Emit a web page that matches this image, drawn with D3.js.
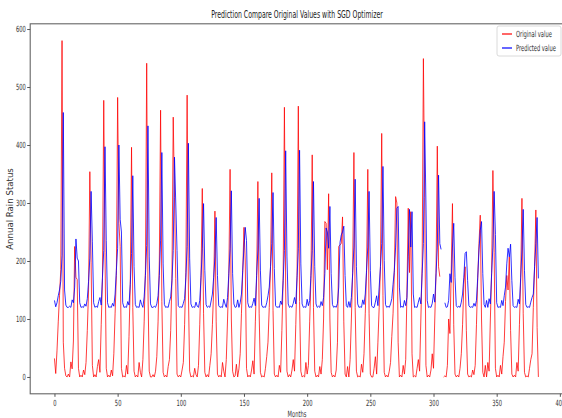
<!DOCTYPE html>
<html>
<head>
<meta charset="utf-8">
<script src="https://cdn.jsdelivr.net/npm/d3@7"></script>
<style>
  body { margin: 0; background: #fff; }
  svg { display: block; font-family: "DejaVu Sans", sans-serif; }
</style>
</head>
<body>
<div id="chart"></div>
<script>
// monthly values, one row per rainy season
const original = [
  32, 6, 45, 95, 140, 185, 580,
  60, 15, 2, 0, 5, 0, 26, 14, 62, 225,
  172, 168, 15, 0, 3, 0, 12, 4, 25, 80, 150, 354,
  198, 20, 0, 4, 0, 18, 30, 8, 90, 170, 477,
  215, 15, 0, 3, 0, 12, 2, 40, 110, 175, 482,
  265, 225, 15, 0, 2, 0, 20, 5, 70, 160, 396,
  120, 10, 0, 3, 0, 25, 8, 0, 30, 95, 185, 541,
  150, 10, 0, 0, 4, 0, 10, 35, 95, 200, 460,
  130, 8, 0, 3, 0, 18, 30, 80, 170, 448,
  310, 170, 5, 0, 3, 0, 12, 25, 90, 180, 486,
  150, 10, 0, 2, 0, 15, 4, 0, 20, 90, 175, 325,
  110, 8, 0, 4, 0, 20, 40, 90, 150, 286,
  95, 5, 0, 3, 0, 25, 10, 0, 30, 100, 175, 358,
  100, 10, 0, 2, 22, 0, 14, 40, 110, 180, 258,
  200, 15, 0, 3, 0, 12, 28, 5, 95, 170, 337,
  110, 8, 0, 2, 0, 15, 35, 60, 120, 190, 352,
  115, 5, 0, 3, 0, 20, 8, 80, 170, 465,
  150, 10, 0, 4, 0, 12, 30, 10, 90, 175, 467,
  130, 10, 0, 2, 0, 25, 5, 20, 95, 170, 383,
  120, 10, 0, 3, 0, 18, 5, 30, 100, 268, 265, 185, 316,
  100, 8, 0, 3, 0, 12, 60, 225, 228, 230, 276,
  95, 5, 0, 18, 0, 30, 100, 180, 387,
  120, 10, 0, 2, 0, 22, 8, 40, 110, 180, 358,
  110, 5, 0, 0, 15, 35, 5, 60, 120, 190, 420,
  140, 8, 0, 3, 0, 10, 25, 70, 110, 180, 311,
  300, 60, 0, 3, 0, 20, 5, 30, 150, 291, 180,
  285, 40, 0, 2, 0, 15, 30, 10, 100, 190, 549,
  310, 20, 0, 3, 0, 12, 40, 15, 100, 180, 398,
  190, 173, null, null, 0, 2, 0, 20, 100, 75, 180, 299,
  90, 5, 0, 3, 0, 15, 40, 90, 160, 190,
  80, 5, 0, 2, 0, 12, 4, 20, 90, 170, 230, 279,
  100, 8, 0, 20, 0, 25, 10, 100, 180, 356,
  215, 15, 0, 3, 0, 20, 5, 35, 60, 130, 175, 150, 207,
  80, 5, 0, 3, 0, 25, 10, 90, 170, 308,
  110, 8, 0, 2, 0, 15, 30, 40, 120, 190, 288,
  85, 0
];

const predicted = [
  132, 121, 128, 140, 150, 165, 210,
  456, 150, 124, 120, 120, 122, 120, 133, 128, 155,
  238, 205, 200, 128, 120, 121, 120, 126, 122, 135, 165, 205,
  320, 233, 128, 120, 122, 120, 130, 137, 124, 172, 218,
  397, 235, 128, 120, 121, 120, 127, 122, 143, 184, 222,
  400, 272, 250, 128, 120, 121, 120, 130, 124, 160, 213,
  347, 190, 125, 120, 121, 120, 133, 125, 120, 138, 175, 227,
  433, 207, 126, 120, 120, 122, 120, 126, 140, 175, 236,
  387, 195, 125, 120, 121, 120, 130, 138, 166, 218,
  379, 300, 218, 123, 120, 121, 120, 127, 135, 172, 225,
  403, 205, 126, 120, 121, 120, 129, 122, 120, 132, 172, 221,
  299, 184, 125, 120, 122, 120, 131, 143, 172, 207,
  275, 175, 123, 120, 121, 120, 134, 126, 120, 137, 178, 221,
  321, 178, 126, 120, 121, 133, 120, 128, 143, 184, 224,
  258, 235, 128, 120, 121, 120, 127, 136, 123, 175, 219,
  308, 183, 124, 120, 121, 120, 128, 140, 155, 190, 230,
  318, 187, 123, 120, 121, 120, 131, 125, 166, 218,
  390, 207, 126, 120, 122, 120, 127, 137, 126, 172, 221,
  391, 195, 126, 120, 121, 120, 134, 123, 132, 175, 218,
  337, 190, 126, 120, 122, 120, 130, 123, 137, 178, 257, 250, 222,
  294, 178, 125, 120, 122, 120, 127, 155, 232, 245, 250,
  260, 175, 123, 120, 130, 120, 137, 178, 224,
  341, 190, 126, 120, 121, 120, 133, 125, 143, 184, 224,
  320, 184, 123, 120, 120, 129, 140, 123, 155, 190, 230,
  363, 201, 125, 120, 122, 120, 126, 135, 160, 184, 224,
  291, 294, 155, 120, 122, 120, 132, 123, 137, 207, 289,
  224, 285, 143, 120, 121, 120, 129, 137, 126, 178, 230,
  440, 300, 132, 120, 121, 120, 127, 143, 129, 178, 224,
  348, 230, 220, null, null, 128, 120, 121, 132, 178, 163, 224,
  265, 172, 123, 120, 122, 120, 129, 143, 172, 213,
  216, 166, 123, 120, 121, 120, 127, 122, 132, 172, 219, 253,
  268, 178, 125, 120, 132, 120, 135, 126, 178, 224,
  320, 246, 128, 120, 121, 120, 132, 123, 140, 155, 195, 222, 207,
  229, 166, 123, 120, 121, 120, 134, 126, 172, 219,
  289, 184, 125, 120, 121, 120, 129, 137, 143, 190, 230,
  275, 170
];

const xTicks = [0, 50, 100, 150, 200, 250, 300, 350, 400];
const yTicks = [0, 100, 200, 300, 400, 500, 600];
const seriesNames = ["Original value", "Predicted value"];
const seriesColors = ["#ff0000", "#0000ff"];

const width = 562, height = 418;
const sx = 0.6; // the picture is squeezed sideways, so horizontal text is too

const x = d3.scaleLinear().domain([-19.2, 403.2]).range([30.2, 563.9]);
const y = d3.scaleLinear().domain([-29, 609]).range([393.8, 23.8]);

const svg = d3.select('#chart')
    .append('svg')
    .attr('width', width)
    .attr('height', height);

// title
svg.append('text')
    .attr('transform', `translate(297,18) scale(${sx},1)`)
    .attr('text-anchor', 'middle')
    .style('font-size', '10.3px')
    .style('fill', '#222')
    .text('Prediction Compare Original Values with SGD Optimizer');

// lines
const line = d3.line()
    .defined(d => d != null)
    .x((d, i) => x(i))
    .y(d => y(d));

svg.append('path')
    .datum(original)
    .attr('d', line)
    .style('fill', 'none')
    .style('stroke', seriesColors[0])
    .style('stroke-opacity', 0.85)
    .style('stroke-width', 0.9)
    .style('stroke-linejoin', 'round');

svg.append('path')
    .datum(predicted)
    .attr('d', line)
    .style('fill', 'none')
    .style('stroke', seriesColors[1])
    .style('stroke-opacity', 0.9)
    .style('stroke-width', 0.9)
    .style('stroke-linejoin', 'round');

// frame
svg.append('rect')
    .attr('x', 30.2)
    .attr('y', 23.8)
    .attr('width', 563.9 - 30.2)
    .attr('height', 393.8 - 23.8)
    .style('fill', 'none')
    .style('stroke', '#666')
    .style('stroke-width', 1.1);

// x axis
const gx = svg.append('g')
    .attr('transform', 'translate(0,393.8)')
    .call(d3.axisBottom(x).tickValues(xTicks).tickSize(3).tickSizeOuter(0).tickPadding(3));
gx.select('.domain').remove();
gx.selectAll('line').style('stroke', '#555');
gx.selectAll('text')
    .attr('transform', `scale(${sx},1)`)
    .style('font-size', '8.6px')
    .style('font-family', '"DejaVu Sans", sans-serif')
    .style('fill', '#333');

// y axis
const gy = svg.append('g')
    .attr('transform', 'translate(30.2,0)')
    .call(d3.axisLeft(y).tickValues(yTicks).tickSize(3).tickSizeOuter(0));
gy.select('.domain').remove();
gy.selectAll('line').style('stroke', '#555');
gy.selectAll('text')
    .attr('x', -4.5 / sx)
    .attr('transform', `scale(${sx},1)`)
    .style('font-size', '8.6px')
    .style('font-family', '"DejaVu Sans", sans-serif')
    .style('fill', '#333');

// axis labels
svg.append('text')
    .attr('transform', `translate(297,417) scale(${sx},1)`)
    .attr('text-anchor', 'middle')
    .style('font-size', '8.6px')
    .style('fill', '#333')
    .text('Months');

svg.append('text')
    .attr('transform', 'translate(13,209) rotate(-90)')
    .attr('text-anchor', 'middle')
    .style('font-size', '8.6px')
    .style('fill', '#333')
    .text('Annual Rain Status');

// legend
const legend = svg.append('g');
legend.append('rect')
    .attr('x', 497)
    .attr('y', 26)
    .attr('width', 64)
    .attr('height', 30)
    .attr('rx', 2)
    .style('fill', '#fff')
    .style('fill-opacity', 0.8)
    .style('stroke', '#d0d0d0')
    .style('stroke-width', 0.8);

seriesNames.forEach((name, k) => {
    const ly = 34 + k * 14;
    legend.append('line')
        .attr('x1', 502).attr('x2', 512)
        .attr('y1', ly).attr('y2', ly)
        .style('stroke', seriesColors[k])
        .style('stroke-width', 1.2);
    legend.append('text')
        .attr('transform', `translate(516,${ly + 3}) scale(${sx},1)`)
        .style('font-size', '8.6px')
        .style('fill', '#333')
        .text(name);
});
</script>
</body>
</html>
